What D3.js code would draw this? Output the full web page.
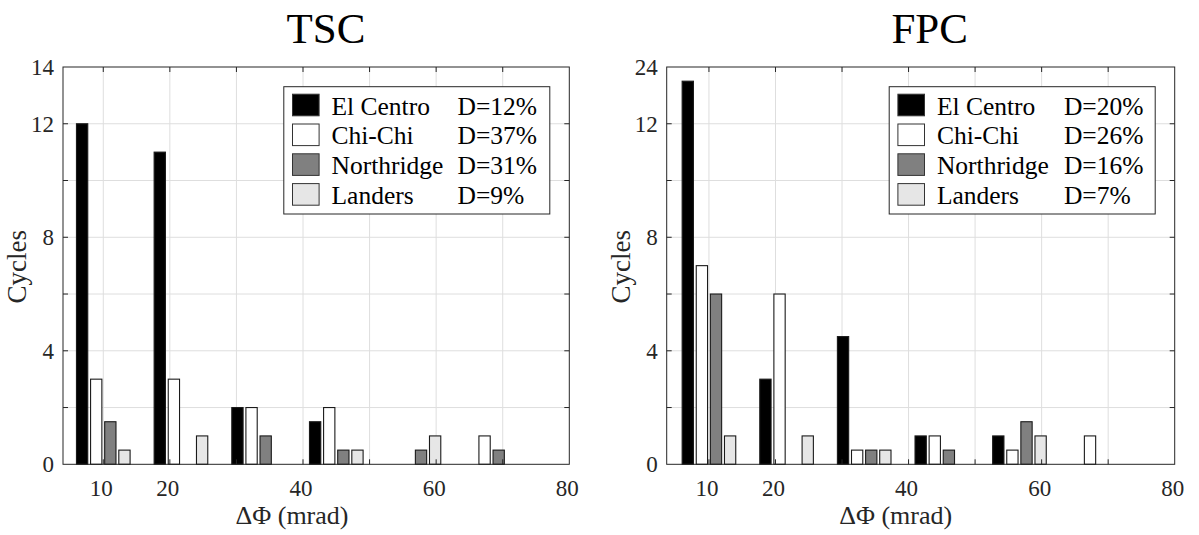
<!DOCTYPE html>
<html>
<head>
<meta charset="utf-8">
<script src="https://cdn.jsdelivr.net/npm/d3@7"></script>
<style>
  html, body { margin: 0; padding: 0; background: #fff; }
  svg { display: block; font-family: "Liberation Serif", "Times New Roman", serif; }
</style>
</head>
<body>
<svg id="chart" width="1199" height="535"></svg>
<script>
// ---------- data ----------
const categories = ["El Centro", "Chi-Chi", "Northridge", "Landers"];
const binCenters = [10, 21.667, 33.333, 45, 56.667, 68.333, 80];

// TSC panel (cycles per bin)
const tscElCentro  = [12, 11, 2,   1.5, 0,   0,   0];
const tscChiChi    = [3,  3,  2,   2,   0,   1,   0];
const tscNorthridge= [1.5,0,  1,   0.5, 0.5, 0.5, 0];
const tscLanders   = [0.5,1,  0,   0.5, 1,   0,   0];
const tscDamage    = ["D=12%", "D=37%", "D=31%", "D=9%"];

// FPC panel (cycles per bin)
const fpcElCentro  = [21, 3, 4.5, 1,   1,   0, 0];
const fpcChiChi    = [7,  6, 0.5, 1,   0.5, 1, 0];
const fpcNorthridge= [6,  0, 0.5, 0.5, 1.5, 0, 0];
const fpcLanders   = [1,  1, 0.5, 0,   1,   0, 0];
const fpcDamage    = ["D=20%", "D=26%", "D=16%", "D=7%"];

const xTickValues = [10, 20, 30, 40, 50, 60, 70, 80];
const xTickLabels = ["10", "20", "", "40", "", "60", "", "80"];
const tscYTicks   = [0, 2, 4, 6, 8, 10, 12, 14];
const tscYLabels  = ["0", "", "4", "", "8", "", "12", "14"];
const fpcYTicks   = [0, 2, 4, 6, 8, 10, 12, 24];
const fpcYLabels  = ["0", "", "4", "", "8", "", "12", "24"];

const colors = ["#000000", "#ffffff", "#808080", "#e6e6e6"];

// ---------- drawing ----------
const svg = d3.select("#chart");
const axisColor = "#262626";
const gridColor = "#dedede";

function drawPanel(opt) {
  const { left, right, pTop, pBottom, xMin, title, series, damage, yDomain, yRange, yTicks, yLabels } = opt;
  const g = svg.append("g");
  const x = d3.scaleLinear().domain([xMin, 80]).range([left, right]);
  const y = d3.scaleLinear().domain(yDomain).range(yRange);

  // grid
  g.append("g").selectAll("line").data(xTickValues.filter(v => v < 80)).join("line")
    .attr("x1", d => x(d)).attr("x2", d => x(d)).attr("y1", pTop).attr("y2", pBottom)
    .attr("stroke", gridColor).attr("stroke-width", 1);
  g.append("g").selectAll("line").data(yTicks.slice(1, -1)).join("line")
    .attr("x1", left).attr("x2", right).attr("y1", d => y(d)).attr("y2", d => y(d))
    .attr("stroke", gridColor).attr("stroke-width", 1);

  // bars
  const groupHalf = 4.24;
  const sub = d3.scaleBand().domain(categories).range([-groupHalf, groupHalf])
    .paddingInner(0.2).paddingOuter(0.1);
  const rows = [];
  series.forEach((vals, si) => {
    vals.forEach((v, bi) => rows.push({ cat: categories[si], si, c: binCenters[bi], v }));
  });
  g.append("g").selectAll("rect").data(rows).join("rect")
    .attr("x", d => x(d.c + sub(d.cat)))
    .attr("width", d => x(d.c + sub(d.cat) + sub.bandwidth()) - x(d.c + sub(d.cat)))
    .attr("y", d => y(d.v))
    .attr("height", d => y(0) - y(d.v))
    .attr("fill", d => colors[d.si])
    .attr("stroke", "#1a1a1a")
    .attr("stroke-width", 1.1);

  // axes box
  g.append("rect").attr("x", left).attr("y", pTop).attr("width", right - left).attr("height", pBottom - pTop)
    .attr("fill", "none").attr("stroke", axisColor).attr("stroke-width", 1);

  // x ticks (bottom & top)
  const tl = 5;
  const xt = xTickValues.filter(v => v < 80);
  g.append("g").selectAll("line").data(xt).join("line")
    .attr("x1", d => x(d)).attr("x2", d => x(d)).attr("y1", pBottom).attr("y2", pBottom - tl)
    .attr("stroke", axisColor);
  g.append("g").selectAll("line").data(xt).join("line")
    .attr("x1", d => x(d)).attr("x2", d => x(d)).attr("y1", pTop).attr("y2", pTop + tl)
    .attr("stroke", axisColor);
  // y ticks (left & right)
  const yt = yTicks.slice(1, -1);
  g.append("g").selectAll("line").data(yt).join("line")
    .attr("x1", left).attr("x2", left + tl).attr("y1", d => y(d)).attr("y2", d => y(d))
    .attr("stroke", axisColor);
  g.append("g").selectAll("line").data(yt).join("line")
    .attr("x1", right).attr("x2", right - tl).attr("y1", d => y(d)).attr("y2", d => y(d))
    .attr("stroke", axisColor);

  // x tick labels
  g.append("g").selectAll("text").data(xTickValues).join("text")
    .attr("x", d => x(d) - 2).attr("y", pBottom + 32)
    .attr("text-anchor", "middle").attr("font-size", 23).attr("fill", axisColor)
    .text((d, i) => xTickLabels[i]);
  // y tick labels
  g.append("g").selectAll("text").data(yTicks).join("text")
    .attr("x", left - 9).attr("y", d => y(d)).attr("dy", "0.34em")
    .attr("text-anchor", "end").attr("font-size", 23).attr("fill", axisColor)
    .text((d, i) => yLabels[i]);

  // axis titles
  g.append("text").attr("x", left + 229).attr("y", pBottom + 60)
    .attr("text-anchor", "middle").attr("font-size", 26).attr("fill", axisColor)
    .text("ΔΦ (mrad)");
  g.append("text").attr("transform", `translate(${left - 37},${(pTop + pBottom) / 2 + 1}) rotate(-90)`)
    .attr("text-anchor", "middle").attr("font-size", 27).attr("fill", axisColor)
    .text("Cycles");
  // title
  g.append("text").attr("x", left + 263).attr("y", 43)
    .attr("text-anchor", "middle").attr("font-size", 43).attr("fill", "#000")
    .text(title);

  // legend
  const lgX = right - 285.5, lgY = 86.7, lgW = 266, lgH = 127.3;
  const lg = g.append("g");
  lg.append("rect").attr("x", lgX).attr("y", lgY).attr("width", lgW).attr("height", lgH)
    .attr("fill", "#fff").attr("stroke", axisColor).attr("stroke-width", 1);
  categories.forEach((c, i) => {
    const cy = lgY + 18.3 + i * 29.8;
    lg.append("rect").attr("x", lgX + 8.7).attr("y", cy - 10.8).attr("width", 26.6).attr("height", 21.6)
      .attr("fill", colors[i]).attr("stroke", "#333").attr("stroke-width", 1);
    lg.append("text").attr("x", lgX + 47.7).attr("y", cy + 9.5)
      .attr("font-size", 25.5).attr("fill", "#000").text(c);
    lg.append("text").attr("x", lgX + opt.dOffset).attr("y", cy + 9.5)
      .attr("font-size", 25.5).attr("fill", "#000").text(damage[i]);
  });
}

const plotBottom = 464.3, plotTop = 67;
drawPanel({
  left: 63, right: 569.3, pTop: plotTop, pBottom: plotBottom, xMin: 3.95, title: "TSC",
  series: [tscElCentro, tscChiChi, tscNorthridge, tscLanders], damage: tscDamage,
  yDomain: [0, 14], yRange: [plotBottom, plotTop], yTicks: tscYTicks, yLabels: tscYLabels, dOffset: 173.7
});
drawPanel({
  left: 666.7, right: 1174.7, pTop: plotTop, pBottom: plotBottom, xMin: 3.65, title: "FPC",
  series: [fpcElCentro, fpcChiChi, fpcNorthridge, fpcLanders], damage: fpcDamage,
  yDomain: [0, 12, 24], yRange: [plotBottom, plotBottom - 12 * (plotBottom - plotTop) / 14, plotTop],
  yTicks: fpcYTicks, yLabels: fpcYLabels, dOffset: 174.7
});
</script>
</body>
</html>
